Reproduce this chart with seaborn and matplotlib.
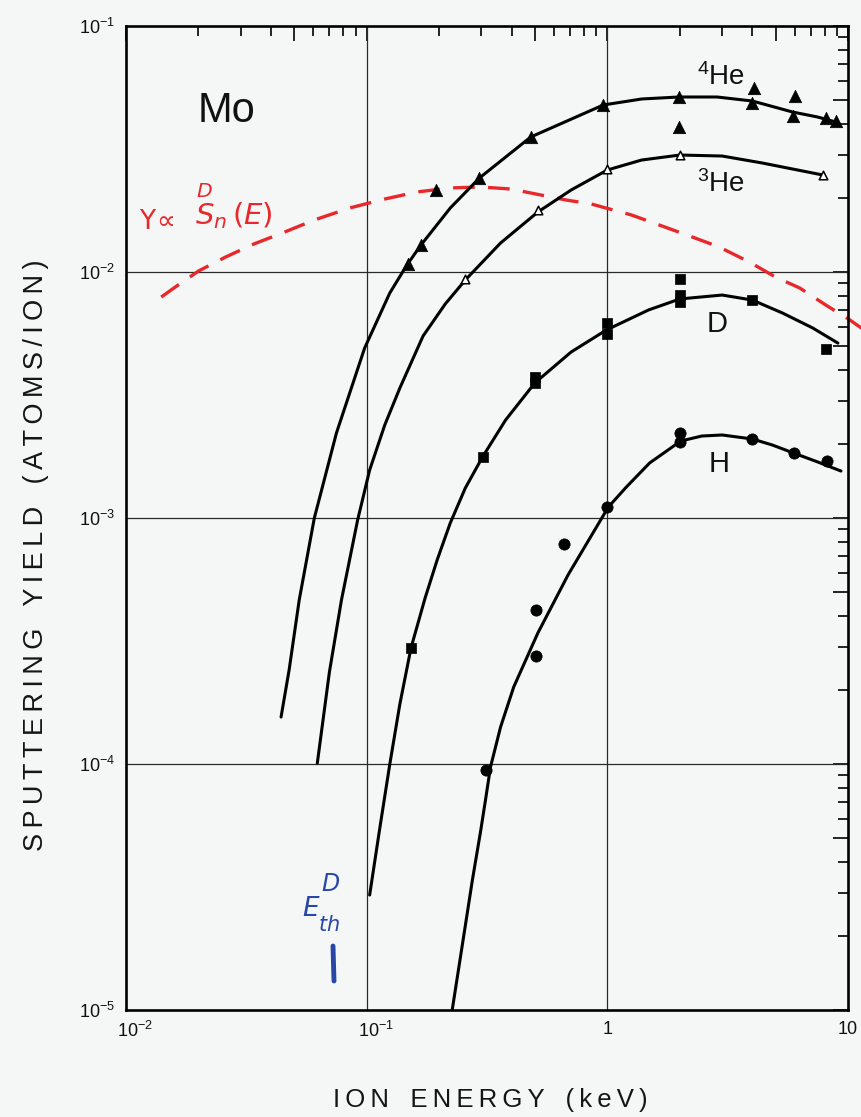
import numpy as np
import pandas as pd
import matplotlib
matplotlib.use("Agg")
import matplotlib.pyplot as plt
from matplotlib.lines import Line2D
from matplotlib.ticker import FixedLocator, FuncFormatter
from matplotlib.transforms import ScaledTranslation
import seaborn as sns

# ---------------- data ----------------
# fitted curves (ion energy keV, sputtering yield atoms/ion)
he4_curve_x = [0.04408, 0.04762, 0.05245, 0.06061, 0.07489, 0.09809, 0.1248, 0.1470, 0.1682, 0.2225,
               0.2942, 0.4808, 0.9623, 1.388, 1.982, 2.858, 4.005, 5.888, 7.48, 8.909]
he4_curve_y = [1.552e-4, 2.411e-4, 4.642e-4, 1.0e-3, 2.216e-3, 4.91e-3, 8.22e-3, 1.068e-2, 1.288e-2, 1.82e-2,
               2.411e-2, 3.539e-2, 4.775e-2, 5.05e-2, 5.145e-2, 5.145e-2, 4.955e-2, 4.47e-2, 4.266e-2, 4.07e-2]

he3_curve_x = [0.06237, 0.07002, 0.07857, 0.09171, 0.1029, 0.1189, 0.1374, 0.1715, 0.2120, 0.2570,
               0.3601, 0.5144, 0.7070, 1.0, 1.388, 2.001, 3.0, 4.41, 7.861]
he3_curve_y = [1.009e-4, 2.366e-4, 4.642e-4, 9.81e-4, 1.567e-3, 2.388e-3, 3.377e-3, 5.49e-3, 7.41e-3, 9.28e-3,
               1.312e-2, 1.753e-2, 2.154e-2, 2.598e-2, 2.852e-2, 2.989e-2, 2.961e-2, 2.773e-2, 2.479e-2]

d_curve_x = [0.1029, 0.1134, 0.1248, 0.1374, 0.1528, 0.1749, 0.1963, 0.2225, 0.2570, 0.3029, 0.3779,
             0.4995, 0.7070, 0.9904, 1.484, 2.001, 3.0, 4.005, 5.346, 7.139, 9.08]
d_curve_y = [2.934e-5, 5.49e-5, 1.0e-4, 1.753e-4, 2.961e-4, 4.728e-4, 6.752e-4, 9.54e-4, 1.324e-3, 1.77e-3, 2.503e-3,
             3.538e-3, 4.728e-3, 5.81e-3, 7.01e-3, 7.77e-3, 8.06e-3, 7.69e-3, 6.81e-3, 5.92e-3, 5.14e-3]

h_curve_x = [0.2267, 0.2497, 0.2750, 0.2971, 0.3117, 0.3270, 0.3601, 0.4083, 0.5144, 0.6868, 1.0097,
             1.2, 1.499, 2.02, 2.47, 3.0, 4.005, 4.85, 5.94, 7.48, 9.35]
h_curve_y = [1.0e-5, 1.837e-5, 3.377e-5, 5.29e-5, 7.14e-5, 9.72e-5, 1.414e-4, 2.056e-4, 3.408e-4, 5.87e-4, 1.108e-3,
             1.337e-3, 1.674e-3, 2.056e-3, 2.154e-3, 2.175e-3, 2.095e-3, 1.98e-3, 1.837e-3, 1.69e-3, 1.552e-3]

# measured points
he4_pts_x = [0.149, 0.168, 0.195, 0.294, 0.48, 0.96, 1.98, 1.98, 4.08, 4.0, 6.0, 5.9, 8.1, 8.9]
he4_pts_y = [0.0108, 0.0129, 0.0216, 0.0241, 0.0354, 0.0478, 0.0514, 0.0388, 0.056, 0.0486, 0.0519, 0.043, 0.0423, 0.0411]

he3_pts_x = [0.257, 0.514, 1.0, 2.0, 7.85]
he3_pts_y = [9.4e-3, 0.0179, 0.0262, 0.0299, 0.0248]

d_pts_x = [0.153, 0.303, 0.5, 0.5, 1.0, 1.0, 2.0, 2.0, 2.0, 4.0, 8.1]
d_pts_y = [2.96e-4, 1.77e-3, 3.54e-3, 3.75e-3, 5.6e-3, 6.2e-3, 9.4e-3, 8.07e-3, 7.55e-3, 7.69e-3, 4.87e-3]

h_pts_x = [0.312, 0.505, 0.505, 0.66, 1.0, 2.0, 2.0, 4.0, 5.94, 8.2]
h_pts_y = [9.46e-5, 2.75e-4, 4.23e-4, 7.83e-4, 1.11e-3, 2.22e-3, 2.04e-3, 2.09e-3, 1.84e-3, 1.71e-3]

# red dashed nuclear-stopping curve  Y ~ S_n(E)
sn_x = [0.01401, 0.01603, 0.02001, 0.02596, 0.03400, 0.04453, 0.06061, 0.08490, 0.1189, 0.1619, 0.2225,
        0.2971, 0.3964, 0.5294, 0.6739, 0.8572, 1.260, 1.732, 2.312, 2.913, 3.89, 4.996, 6.299, 8.088,
        10.19, 11.67]
sn_y = [7.91e-3, 8.69e-3, 1.009e-2, 1.151e-2, 1.30e-2, 1.44e-2, 1.627e-2, 1.82e-2, 1.98e-2, 2.115e-2, 2.196e-2,
        2.216e-2, 2.175e-2, 2.056e-2, 1.962e-2, 1.89e-2, 1.705e-2, 1.524e-2, 1.375e-2, 1.264e-2, 1.098e-2,
        9.54e-3, 8.61e-3, 7.34e-3, 6.38e-3, 5.81e-3]

x_tick_labels = {0.01: r'$\mathregular{10^{-2}}$', 0.1: r'$\mathregular{10^{-1}}$', 1: '1', 10: '10'}
y_tick_labels = {1e-1: r'$\mathregular{10^{-1}}$', 1e-2: r'$\mathregular{10^{-2}}$',
                 1e-3: r'$\mathregular{10^{-3}}$', 1e-4: r'$\mathregular{10^{-4}}$',
                 1e-5: r'$\mathregular{10^{-5}}$'}

# ---------------- styling ----------------
sns.set_theme(style="white")
plt.rcParams['font.family'] = ['Liberation Sans', 'DejaVu Sans']
plt.rcParams['mathtext.fontset'] = 'dejavusans'

W, H = 861, 1117
BG = '#f5f7f7'
fig = plt.figure(figsize=(W / 100, H / 100), dpi=100, facecolor=BG)
L, R, T, B = 126, 848, 26, 1010
ax = fig.add_axes([L / W, 1 - B / H, (R - L) / W, (B - T) / H])
ax.set_facecolor(BG)


def P(px, py):
    return px / W, 1 - py / H


def spaced(s):
    th = '\u2009'
    out = []
    for i, ch in enumerate(s):
        out.append(ch)
        if i < len(s) - 1 and ch != ' ' and s[i + 1] != ' ':
            out.append(th)
    return ''.join(out)


ax.set_xscale('log')
ax.set_yscale('log')

# grid lines at decades
for gx in [0.1, 1]:
    ax.axvline(gx, color='#2a2a2a', lw=0.9, zorder=1)
for gy in [1e-2, 1e-3, 1e-4]:
    ax.axhline(gy, color='#2a2a2a', lw=0.9, zorder=1)

# red dashed curve
sns.lineplot(x=sn_x, y=sn_y, ax=ax, color='#e8282b', lw=2.4, sort=False, estimator=None,
             linestyle=(0, (6.5, 4)), zorder=2)
ax.lines[-1].set_clip_on(False)

# fitted curves
for cx, cy in [(he4_curve_x, he4_curve_y), (he3_curve_x, he3_curve_y),
               (d_curve_x, d_curve_y), (h_curve_x, h_curve_y)]:
    sns.lineplot(x=cx, y=cy, ax=ax, color='black', lw=2.2, sort=False, estimator=None, zorder=3)
    ax.lines[-1].set_solid_joinstyle('round')

# points
sns.scatterplot(x=he4_pts_x, y=he4_pts_y, ax=ax, marker='^', s=80, color='black',
                edgecolor='black', linewidth=0.5, zorder=4)
sns.scatterplot(x=he3_pts_x, y=he3_pts_y, ax=ax, marker='^', s=38, facecolor='white',
                edgecolor='black', linewidth=1.1, zorder=4)
sns.scatterplot(x=d_pts_x, y=d_pts_y, ax=ax, marker='s', s=50, color='black',
                edgecolor='black', linewidth=0.5, zorder=4)
sns.scatterplot(x=h_pts_x, y=h_pts_y, ax=ax, marker='o', s=66, color='black',
                edgecolor='black', linewidth=0.5, zorder=4)

ax.set_xlim(0.01, 10)
ax.set_ylim(1e-5, 1e-1)

# ticks
xmaj = [0.01, 0.05, 0.1, 0.5, 1, 5, 10]
xmin = [m * d for d in [0.01, 0.1, 1] for m in [2, 3, 4, 6, 7, 8, 9]]
ymaj = sorted([10.0 ** e for e in range(-5, 0)] + [5 * 10.0 ** e for e in range(-5, -1)])
ymin = [m * 10.0 ** e for e in range(-5, -1) for m in [2, 3, 4, 6, 7, 8, 9]]
ax.xaxis.set_major_locator(FixedLocator(xmaj))
ax.xaxis.set_minor_locator(FixedLocator(xmin))
ax.yaxis.set_major_locator(FixedLocator(ymaj))
ax.yaxis.set_minor_locator(FixedLocator(ymin))


def make_fmt(table):
    def f(v, pos):
        for k, s in table.items():
            if abs(np.log10(v) - np.log10(k)) < 1e-6:
                return s
        return ''
    return f


ax.xaxis.set_major_formatter(FuncFormatter(make_fmt(x_tick_labels)))
ax.yaxis.set_major_formatter(FuncFormatter(make_fmt(y_tick_labels)))
ax.xaxis.set_minor_formatter(FuncFormatter(lambda v, p: ''))
ax.yaxis.set_minor_formatter(FuncFormatter(lambda v, p: ''))
ax.tick_params(which='both', direction='in', top=True, right=True, color='black', width=1.2)
ax.tick_params(which='major', length=11, labelsize=13, labelcolor='#111111')
ax.tick_params(which='minor', length=7)
ax.tick_params(axis='x', which='major', pad=8)
ax.tick_params(axis='y', which='major', pad=8)

# shift the "10^-n" x labels so that the "10" sits on the tick as in the original
fig.canvas.draw()
for lab in ax.get_xticklabels():
    if lab.get_text().startswith('$'):
        lab.set_transform(lab.get_transform() + ScaledTranslation(9 / 100, 0, fig.dpi_scale_trans))

for sp in ax.spines.values():
    sp.set_color('black')
    sp.set_linewidth(1.9)

# axis titles
fig.text(*P(36, 555), spaced('SPUTTERING   YIELD   (ATOMS/ION)'), rotation=90, ha='center', va='center',
         fontsize=19.5, color='#151515')
fig.text(*P(490, 1100), spaced('ION   ENERGY   (keV)'), ha='center', va='center', fontsize=18.5, color='#151515')

# in-plot labels
fig.text(*P(198, 122), 'Mo', fontsize=30, ha='left', va='baseline', color='#111111')
fig.text(*P(697, 85), r'$\mathregular{^4}$He', fontsize=20, ha='left', va='baseline', color='#111111')
fig.text(*P(697, 192), r'$\mathregular{^3}$He', fontsize=20, ha='left', va='baseline', color='#111111')
fig.text(*P(707, 332), 'D', fontsize=21, ha='left', va='baseline', color='#111111')
fig.text(*P(709, 472), 'H', fontsize=21, ha='left', va='baseline', color='#111111')

# handwritten red annotation  "Y ~ S_n^D(E)"
red = '#e8282b'
fig.text(*P(139, 229), r'$\mathrm{Y}\!\propto$', fontsize=19, ha='left', va='baseline', color=red)
fig.text(*P(195, 224), r'$\overset{D}{S}_{n}\,(E)$', fontsize=21, ha='left', va='baseline', color=red)

# handwritten blue annotation  "E_th^D" with a threshold bar
blue = '#2746a8'
fig.text(*P(321, 891), r'$D$', fontsize=17, ha='left', va='baseline', color=blue)
fig.text(*P(302, 916), r'$E$', fontsize=19, ha='left', va='baseline', color=blue)
fig.text(*P(318, 931), r'$th$', fontsize=15, ha='left', va='baseline', color=blue)
fig.add_artist(Line2D([P(333, 946)[0], P(334, 981)[0]], [P(333, 946)[1], P(334, 981)[1]],
                      color=blue, lw=3.5, solid_capstyle='round'))

fig.savefig('out.png', dpi=100, facecolor=BG)
